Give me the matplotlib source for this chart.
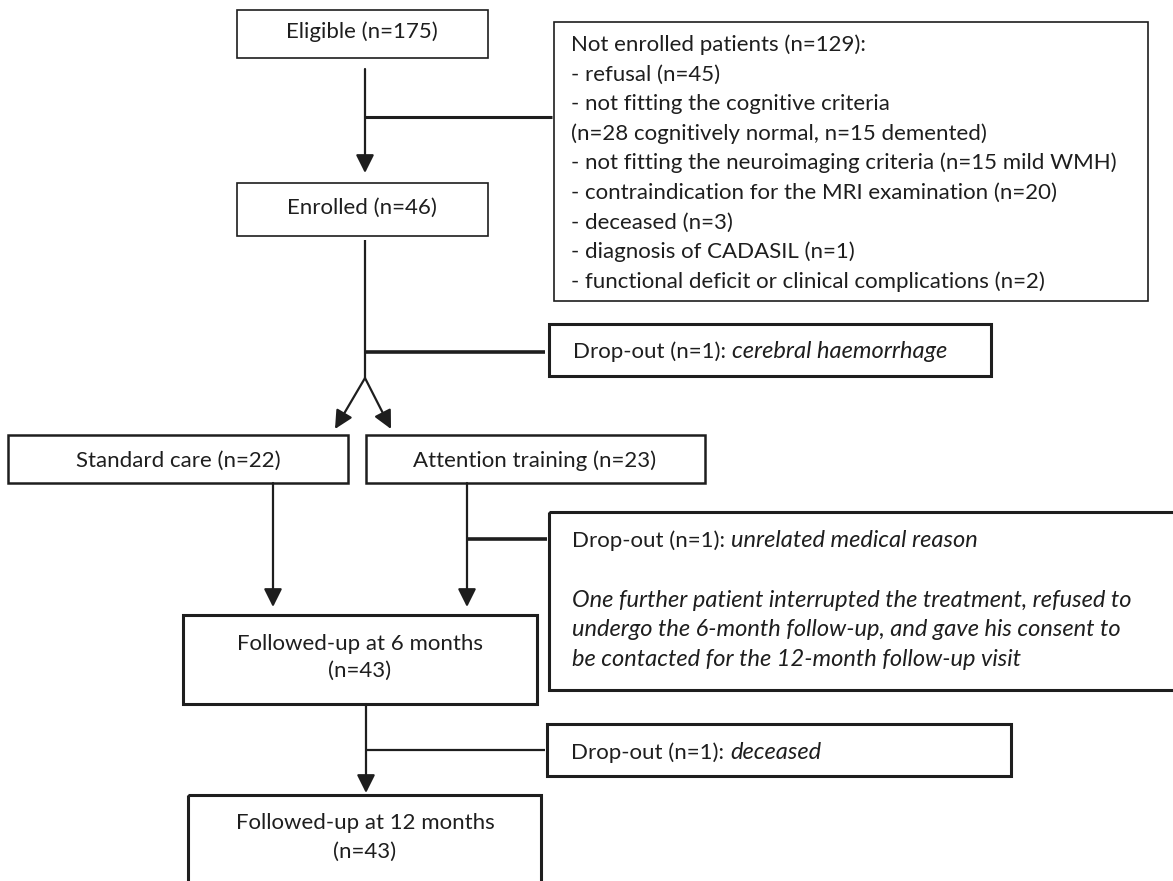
import matplotlib
matplotlib.use('Agg')
import matplotlib.pyplot as plt
from matplotlib.patches import Rectangle

plt.rcParams['font.family'] = ['Lato', 'DejaVu Sans']

# texts of the flow chart
eligible_label = 'Eligible (n=175)'
enrolled_label = 'Enrolled (n=46)'
arm_labels = ['Standard care (n=22)', 'Attention training (n=23)']
followup_labels = [['Followed-up at 6 months', '(n=43)'],
                   ['Followed-up at 12 months', '(n=43)']]
not_enrolled_lines = [
    'Not enrolled patients (n=129):',
    '- refusal (n=45)',
    '- not fitting the cognitive criteria',
    '(n=28 cognitively normal, n=15 demented)',
    '- not fitting the neuroimaging criteria (n=15 mild WMH)',
    '- contraindication for the MRI examination (n=20)',
    '- deceased (n=3)',
    '- diagnosis of CADASIL (n=1)',
    '- functional deficit or clinical complications (n=2)',
]
dropout_prefix = 'Drop-out (n=1):'
dropout_reasons = ['cerebral haemorrhage', 'unrelated medical reason', 'deceased']
further_note = [
    'One further patient interrupted the treatment, refused to',
    'undergo the 6-month follow-up, and gave his consent to',
    'be contacted for the 12-month follow-up visit',
]

INK = '#1e1e1e'
FS = 16
FS_IT = 17  # Lato italic runs narrower than the regular cut
W, H = 1173, 881

fig = plt.figure(figsize=(W / 100, H / 100), dpi=100)
ax = fig.add_axes([0, 0, 1, 1])
ax.set_xlim(0, W)
ax.set_ylim(H, 0)
ax.axis('off')


def box(x0, y0, x1, y1, lw):
    ax.add_patch(Rectangle((x0, y0), x1 - x0, y1 - y0, fill=False,
                           edgecolor=INK, linewidth=lw, joinstyle='miter'))


def line(x0, y0, x1, y1, lw=1.6):
    ax.plot([x0, x1], [y0, y1], color=INK, lw=lw, solid_capstyle='butt')


def arrow(x0, y0, x1, y1, lw=1.6):
    ax.annotate('', xy=(x1, y1), xytext=(x0, y0),
                arrowprops=dict(arrowstyle='-|>,head_length=1.1,head_width=0.55',
                                mutation_scale=10, lw=lw, color=INK,
                                shrinkA=0, shrinkB=0))


def label(x, y, s, ha='center', style='normal'):
    # y is the visual middle of the line, text sits on its baseline
    size = FS_IT if style == 'italic' else FS
    return ax.text(x, y + 8, s, ha=ha, va='baseline', fontsize=size,
                   color=INK, style=style)


# boxes (pixel layout)
box(237, 10, 488, 58, 1.2)
box(237, 183, 488, 236, 1.2)
box(554, 22, 1148, 301, 1.2)
box(549, 324, 991, 376, 2.2)
box(8, 435, 348, 483, 1.8)
box(366, 435, 705, 483, 1.8)
box(549, 512, 1185, 690, 2.2)
box(183, 615, 537, 704, 2.2)
box(547, 724, 1011, 776, 2.2)
box(188, 795, 541, 900, 2.2)

# connectors
arrow(365, 69, 365, 173)
line(365, 117, 552, 117, 2.2)
line(365, 240, 365, 378)
line(365, 352, 545, 352, 2.6)
arrow(365, 378, 335, 429)
arrow(365, 378, 391, 429)
arrow(273, 483, 273, 607)
arrow(467, 483, 467, 607)
line(467, 539, 547, 539, 2.6)
arrow(366, 704, 366, 793)
line(366, 750, 545, 750, 1.6)

# box texts
label(362, 30, eligible_label)
label(362, 206, enrolled_label)
label(178, 459, arm_labels[0])
label(535, 459, arm_labels[1])
for i, s in enumerate(followup_labels[0]):
    label(360, 642 + i * 27, s)
for i, s in enumerate(followup_labels[1]):
    label(365, 821 + i * 29, s)

for i, s in enumerate(not_enrolled_lines):
    label(571, 43 + i * 29.6, s, ha='left')

# drop-out lines: regular prefix followed by an italic reason
drop_y = [350, 539, 751]
drop_x = [573, 572, 571]
prefixes = []
for x, y in zip(drop_x, drop_y):
    prefixes.append(label(x, y, dropout_prefix, ha='left'))
fig.canvas.draw()
inv = ax.transData.inverted()
for t, y, reason in zip(prefixes, drop_y, dropout_reasons):
    bb = t.get_window_extent()
    x_end = inv.transform((bb.x1, bb.y0))[0]
    label(x_end + 6, y, reason, ha='left', style='italic')

for i, s in enumerate(further_note):
    label(572, 599 + i * 29.5, s, ha='left', style='italic')

fig.savefig('out.png', dpi=100, facecolor='white')
